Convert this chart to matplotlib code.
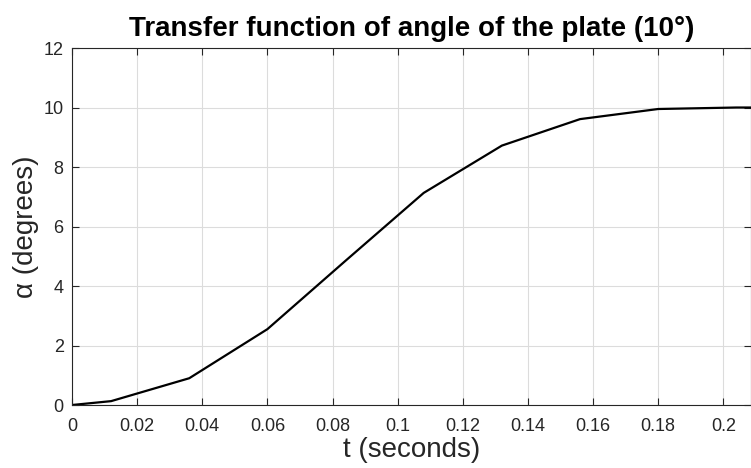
import numpy as np
import matplotlib.pyplot as plt

plt.rcParams['font.family'] = ['Liberation Sans', 'DejaVu Sans']

# step response samples of the plate angle
t = [0, 0.012, 0.036, 0.060, 0.084, 0.108, 0.132, 0.156, 0.180, 0.204, 0.216]
alpha = [0, 0.13, 0.90, 2.55, 4.85, 7.13, 8.72, 9.61, 9.95, 10.0, 10.0]

xticks = [0, 0.02, 0.04, 0.06, 0.08, 0.1, 0.12, 0.14, 0.16, 0.18, 0.2]
xticklabels = ['0', '0.02', '0.04', '0.06', '0.08', '0.1', '0.12', '0.14', '0.16', '0.18', '0.2']
yticks = [0, 2, 4, 6, 8, 10, 12]

fig = plt.figure(figsize=(7.51, 4.68), dpi=100)
ax = fig.add_axes([0.0959, 0.1346, 0.9041, 0.7628])

ax.plot(t, alpha, color='black', lw=1.6)

ax.set_xlim(0, 0.2085)
ax.set_ylim(0, 12)
ax.set_xticks(xticks)
ax.set_xticklabels(xticklabels)
ax.set_yticks(yticks)
ax.grid(True, color='#dcdcdc', lw=0.8)
ax.set_axisbelow(True)
ax.tick_params(direction='in', length=5, width=0.8, labelsize=13,
               top=True, right=True, colors='#262626')
ax.tick_params(axis='x', pad=9)
ax.tick_params(axis='y', pad=6)
for s in ax.spines.values():
    s.set_color('#262626')
    s.set_linewidth(0.8)

ax.set_title('Transfer function of angle of the plate (10°)',
             fontsize=20, fontweight='bold', pad=9)
ax.set_xlabel('t (seconds)', fontsize=20, color='#262626', labelpad=2)
ax.set_ylabel('α (degrees)', fontsize=20, color='#262626', labelpad=3)

fig.savefig('out.png', dpi=100)
